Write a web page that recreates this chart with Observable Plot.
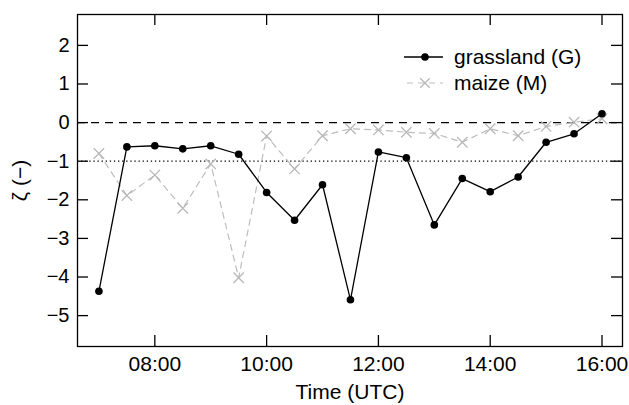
<!DOCTYPE html>
<html><head><meta charset="utf-8">
<script src="https://cdn.jsdelivr.net/npm/d3@7"></script>
<script src="https://cdn.jsdelivr.net/npm/@observablehq/plot@0.6"></script>
<style>
body{margin:0;background:#fff;}
#wrap{position:relative;width:629px;height:405px;font-family:"Liberation Sans",Arial,sans-serif;}
#legend{position:absolute;left:400px;top:40px;}
</style>
</head><body><div id="wrap"></div>
<script>
const times = ["07:00","07:30","08:00","08:30","09:00","09:30","10:00","10:30","11:00","11:30","12:00","12:30","13:00","13:30","14:00","14:30","15:00","15:30","16:00"];
const grassland = [-4.37,-0.63,-0.60,-0.68,-0.60,-0.82,-1.81,-2.53,-1.61,-4.59,-0.76,-0.91,-2.65,-1.45,-1.79,-1.41,-0.51,-0.29,0.23];
const maize = [-0.80,-1.89,-1.36,-2.22,-1.07,-4.02,-0.35,-1.20,-0.34,-0.16,-0.19,-0.25,-0.28,-0.51,-0.16,-0.34,-0.10,0.01,0.10];
const xTickLabels = ["08:00","10:00","12:00","14:00","16:00"];
const yTicks = [2,1,0,-1,-2,-3,-4,-5];
const xDomain = ["06:37","16:22"];
const yDomain = [-5.8, 2.8];
const dashedRef = [0];
const dottedRef = [-1];
const seriesNames = ["grassland (G)","maize (M)"];
const xLabel = "Time (UTC)";
const yLabel = "ζ (−)";

const parse = d3.utcParse("%H:%M");
const G = times.map((t,i)=>({t:parse(t), v:grassland[i]}));
const M = times.map((t,i)=>({t:parse(t), v:maize[i]}));
const xTicks = xTickLabels.map(parse);

const W = 629, H = 405, mL = 77, mR = 7, mT = 14, mB = 59;
const iw = W - mL - mR, ih = H - mT - mB, tl = 11;

const chart = Plot.plot({
  width: W, height: H,
  marginLeft: mL, marginRight: mR, marginTop: mT, marginBottom: mB,
  style: {fontFamily: "Liberation Sans, Arial, sans-serif", fontSize: "21px", background: "white", color: "black"},
  x: {type: "utc", domain: xDomain.map(parse)},
  y: {domain: yDomain},
  marks: [
    Plot.ruleY(dashedRef, {stroke: "black", strokeWidth: 1.2, strokeDasharray: "8,6"}),
    Plot.ruleY(dottedRef, {stroke: "black", strokeWidth: 1.3, strokeDasharray: "1.3,2.8"}),
    Plot.line(M, {x: "t", y: "v", stroke: "#bdbdbd", strokeWidth: 1.2, strokeDasharray: "6,5"}),
    Plot.dot(M, {x: "t", y: "v", symbol: "times", r: 4.8, stroke: "#b8b8b8", strokeWidth: 1.3}),
    Plot.line(G, {x: "t", y: "v", stroke: "black", strokeWidth: 1.3}),
    Plot.dot(G, {x: "t", y: "v", r: 3.8, fill: "black", stroke: "none"}),
    Plot.tickX(xTicks, {x: d => d, insetTop: ih - tl, stroke: "black", strokeWidth: 1.3}),
    Plot.tickX(xTicks, {x: d => d, insetBottom: ih - tl, stroke: "black", strokeWidth: 1.3}),
    Plot.tickY(yTicks, {y: d => d, insetRight: iw - tl, stroke: "black", strokeWidth: 1.3}),
    Plot.tickY(yTicks, {y: d => d, insetLeft: iw - tl, stroke: "black", strokeWidth: 1.3}),
    Plot.axisX({ticks: xTicks, tickFormat: d3.utcFormat("%H:%M"), tickSize: 0, tickPadding: 10, label: null, fontSize: 21}),
    Plot.axisY({ticks: yTicks, tickSize: 0, tickPadding: 8, label: null, fontSize: 20}),
    Plot.text([xLabel], {text: d => d, frameAnchor: "bottom", lineAnchor: "middle", dy: 46, fontSize: 21}),
    Plot.text([yLabel], {text: d => d, frameAnchor: "left", textAnchor: "middle", lineAnchor: "middle", dx: -57, rotate: -90, fontSize: 21}),
    Plot.frame({stroke: "black", strokeWidth: 1.3})
  ]
});
const wrap = document.getElementById("wrap");
wrap.appendChild(chart);

// legend
const leg = d3.select(wrap).append("svg").attr("id","legend").attr("width",220).attr("height",60)
  .style("font-family","Liberation Sans, Arial, sans-serif").style("font-size","21px");
const rows = [17, 43];
leg.append("line").attr("x1",4).attr("x2",43).attr("y1",rows[0]).attr("y2",rows[0]).attr("stroke","black").attr("stroke-width",1.3);
leg.append("circle").attr("cx",25).attr("cy",rows[0]).attr("r",3.8).attr("fill","black");
leg.append("line").attr("x1",4).attr("x2",43).attr("y1",rows[1]).attr("y2",rows[1]).attr("stroke","#bdbdbd").attr("stroke-width",1.2).attr("stroke-dasharray","6,5").attr("stroke-dashoffset",-3);
leg.append("path").attr("d","M-4.8,-4.8L4.8,4.8M-4.8,4.8L4.8,-4.8").attr("transform",`translate(25,${rows[1]})`).attr("stroke","#b8b8b8").attr("stroke-width",1.3).attr("fill","none");
seriesNames.forEach((s,i)=>{
  leg.append("text").attr("x",54).attr("y",rows[i]).attr("dy","0.35em").attr("fill","black").text(s);
});
</script>
</body></html>
